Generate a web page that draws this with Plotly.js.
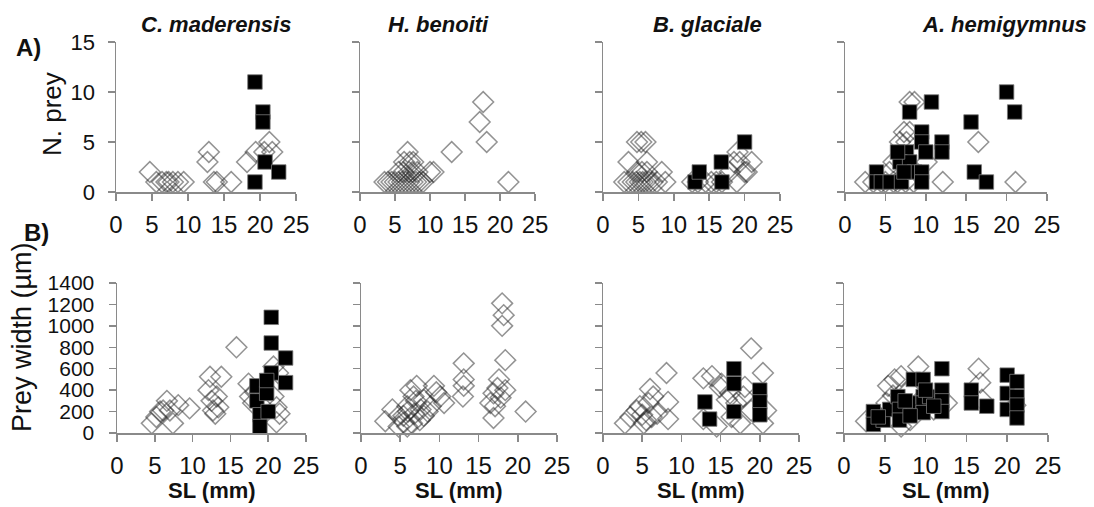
<!DOCTYPE html>
<html>
<head>
<meta charset="utf-8">
<script src="https://cdn.plot.ly/plotly-3.0.1.min.js"></script>
<style>html,body{margin:0;padding:0;background:#fff;}#chart{width:1094px;height:507px;}</style>
</head>
<body>
<div id="chart"></div>
<script>
// ---------- tick labels / categories ----------
const species = ["C. maderensis", "H. benoiti", "B. glaciale", "A. hemigymnus"];
const xTicks = [0, 5, 10, 15, 20, 25];
const nPreyTicks = [0, 5, 10, 15];
const widthTicks = [0, 200, 400, 600, 800, 1000, 1200, 1400];

// ---------- A) N. prey vs SL ----------
// C. maderensis
const cmPreyOpenX = [4.7, 5.6, 6.4, 7.0, 7.3, 7.9, 8.6, 9.4, 12.9, 12.7, 13.6, 14.0, 16.0, 18.2, 19.4, 21.3, 21.7, 20.6];
const cmPreyOpenY = [2, 1, 1, 1, 1, 1, 1, 1, 4, 3, 1, 1, 1, 3, 4, 5, 4, 4];
const cmPreyFillX = [19.3, 20.4, 20.4, 20.7, 22.6, 19.3];
const cmPreyFillY = [11, 8, 7, 3, 2, 1];
// H. benoiti
const hbPreyOpenX = [3.5, 4.0, 4.5, 5.0, 5.5, 6.0, 6.5, 7.0, 7.5, 8.0, 8.5, 9.0, 5.5, 6.2, 7.0, 7.5, 8.2, 6.3, 7.1, 7.6, 6.8, 10.0, 10.5, 13.1, 17.6, 17.1, 18.1, 21.2];
const hbPreyOpenY = [1, 1, 1, 1, 1, 1, 1, 1, 1, 1, 1, 1, 2, 2, 2, 2, 2, 3, 3, 3, 4, 2, 2, 4, 9, 7, 5, 1];
const hbPreyFillX = [];
const hbPreyFillY = [];
// B. glaciale
const bgPreyOpenX = [4.8, 5.4, 6.0, 3.6, 6.2, 8.3, 4.8, 5.5, 6.2, 3.0, 3.6, 4.2, 4.7, 5.2, 5.6, 6.0, 6.5, 7.0, 7.6, 8.8, 12.6, 13.4, 14.5, 15.3, 16.0, 16.8, 17.9, 18.5, 19.3, 21.0, 19.0, 20.3, 18.9, 20.0];
const bgPreyOpenY = [5, 5, 5, 3, 3, 2, 2, 2, 2, 1, 1, 1, 1, 1, 1, 1, 1, 1, 1, 1, 1, 1, 1, 1, 1, 1, 2, 3, 3, 3, 4, 2, 1, 2];
const bgPreyFillX = [13.0, 13.6, 16.7, 16.8, 20.0];
const bgPreyFillY = [1, 2, 3, 1, 5];
// A. hemigymnus
const ahPreyOpenX = [2.5, 8.0, 8.6, 7.3, 8.0, 6.8, 7.6, 10.1, 6.0, 12.1, 16.5, 21.1, 3.5, 4.5, 5.0, 6.0, 6.5, 7.5, 8.5, 5.5];
const ahPreyOpenY = [1, 9, 9, 6, 6, 5, 5, 3, 3, 1, 5, 1, 1, 1, 1, 1, 1, 1, 1, 2];
const ahPreyFillX = [3.9, 3.9, 4.5, 5.6, 7.0, 8.0, 10.7, 9.5, 9.5, 10.0, 7.6, 6.8, 8.0, 8.6, 9.5, 9.5, 12.0, 12.0, 15.6, 16.0, 17.5, 20.0, 21.0, 7.3, 6.5];
const ahPreyFillY = [2, 1, 1, 1, 1, 8, 9, 6, 5, 4, 4, 3, 3, 2, 2, 1, 5, 4, 7, 2, 1, 10, 8, 2, 4];

// ---------- B) Prey width (µm) vs SL ----------
// C. maderensis
const cmWidOpenX = [4.6, 5.2, 5.7, 6.1, 6.6, 7.0, 7.4, 8.1, 9.6, 12.3, 13.8, 12.1, 12.5, 12.7, 13.2, 13.4, 13.0, 15.8, 17.4, 17.6, 18.0, 20.7, 21.3, 20.7, 21.1, 21.1, 21.5, 18.3];
const cmWidOpenY = [90, 150, 200, 210, 300, 210, 90, 260, 230, 525, 525, 400, 300, 210, 340, 240, 180, 800, 460, 340, 280, 620, 560, 340, 240, 100, 180, 380];
const cmWidFillX = [20.4, 20.4, 22.3, 22.3, 20.4, 18.5, 18.5, 18.9, 18.9, 19.8, 19.8, 20.0];
const cmWidFillY = [1080, 840, 700, 470, 560, 440, 300, 170, 60, 370, 490, 200];
// H. benoiti
const hbWidOpenX = [4.0, 3.1, 4.8, 6.3, 7.1, 6.7, 5.9, 5.4, 6.5, 7.6, 8.0, 9.3, 10.1, 10.6, 8.9, 8.0, 5.9, 4.8, 7.0, 6.0, 7.5, 5.5, 6.8, 8.5, 9.6, 13.1, 13.1, 13.1, 13.0, 18.0, 18.2, 18.0, 18.4, 17.6, 17.4, 18.4, 16.9, 16.5, 17.1, 16.9, 17.8, 21.0];
const hbWidOpenY = [220, 110, 160, 400, 440, 340, 250, 160, 90, 220, 310, 440, 340, 280, 250, 160, 60, 60, 300, 200, 120, 100, 180, 200, 380, 650, 500, 440, 340, 1210, 1100, 1000, 680, 500, 420, 400, 370, 280, 250, 140, 330, 200];
const hbWidFillX = [];
const hbWidFillY = [];
// B. glaciale
const bgWidOpenX = [2.8, 3.5, 5.0, 6.0, 5.8, 6.4, 6.9, 4.3, 5.2, 8.1, 8.3, 8.3, 4.7, 5.5, 6.2, 12.8, 12.8, 13.9, 14.9, 14.5, 15.1, 15.8, 16.2, 17.0, 16.4, 17.9, 18.9, 18.1, 18.9, 20.4, 20.8, 20.4, 17.5];
const bgWidOpenY = [90, 150, 170, 410, 280, 340, 180, 210, 90, 560, 290, 130, 250, 120, 150, 510, 130, 530, 430, 60, 460, 310, 370, 280, 150, 340, 790, 430, 210, 560, 210, 90, 90];
const bgWidFillX = [13.0, 13.6, 16.7, 16.7, 16.7, 20.0, 20.0, 20.0];
const bgWidFillY = [290, 130, 600, 460, 200, 400, 290, 170];
// A. hemigymnus
const ahWidOpenX = [2.7, 5.4, 6.2, 7.0, 9.1, 16.5, 16.7, 16.9, 12.6, 21.0, 7.0, 8.1, 5.2, 4.0, 6.0, 8.0, 10.5, 11.0];
const ahWidOpenY = [110, 440, 500, 530, 620, 600, 470, 310, 280, 260, 60, 120, 280, 170, 350, 400, 300, 220];
const ahWidFillX = [3.6, 3.6, 4.8, 5.6, 6.6, 6.8, 6.8, 8.5, 9.7, 8.5, 9.7, 9.7, 9.7, 10.5, 8.1, 12.0, 12.0, 12.0, 12.0, 15.6, 15.6, 17.5, 20.0, 20.0, 20.0, 21.2, 21.2, 21.2, 21.2, 4.2, 7.5, 10.0, 11.0];
const ahWidFillY = [200, 80, 120, 220, 340, 220, 120, 500, 500, 280, 340, 280, 190, 340, 160, 600, 400, 300, 200, 400, 280, 250, 540, 370, 220, 480, 340, 260, 140, 150, 300, 400, 250];

// ---------- build ----------
const W = 1094, H = 507;
const panels = [
  [cmPreyOpenX, cmPreyOpenY, cmPreyFillX, cmPreyFillY],
  [hbPreyOpenX, hbPreyOpenY, hbPreyFillX, hbPreyFillY],
  [bgPreyOpenX, bgPreyOpenY, bgPreyFillX, bgPreyFillY],
  [ahPreyOpenX, ahPreyOpenY, ahPreyFillX, ahPreyFillY],
  [cmWidOpenX, cmWidOpenY, cmWidFillX, cmWidFillY],
  [hbWidOpenX, hbWidOpenY, hbWidFillX, hbWidFillY],
  [bgWidOpenX, bgWidOpenY, bgWidFillX, bgWidFillY],
  [ahWidOpenX, ahWidOpenY, ahWidFillX, ahWidFillY]
];
// pixel extents of each plot area
const topCols = [[116, 296], [360, 535], [603, 780], [845, 1047]];
const botCols = [[117, 306], [361, 557], [603, 799], [844, 1048]];
const topRow = [42, 192], botRow = [283, 433];

const FONT = 'Arial, "Liberation Sans", sans-serif';
const AXC = '#8a8a8a';
const traces = [];
const layout = {
  width: W, height: H,
  margin: {l: 0, r: 0, t: 0, b: 0},
  paper_bgcolor: '#fff', plot_bgcolor: 'rgba(0,0,0,0)',
  showlegend: false,
  font: {family: FONT, color: '#111'},
  annotations: []
};

panels.forEach((p, i) => {
  const n = i + 1;
  const sfx = n === 1 ? '' : String(n);
  const isTop = i < 4;
  const col = isTop ? topCols[i] : botCols[i - 4];
  const row = isTop ? topRow : botRow;
  traces.push({
    type: 'scatter', mode: 'markers', x: p[0], y: p[1],
    xaxis: 'x' + sfx, yaxis: 'y' + sfx, cliponaxis: false,
    marker: {symbol: 'diamond-open', size: 16, color: 'rgba(40,40,40,0.5)', line: {width: 1.5, color: 'rgba(40,40,40,0.5)'}}
  });
  traces.push({
    type: 'scatter', mode: 'markers', x: p[2], y: p[3],
    xaxis: 'x' + sfx, yaxis: 'y' + sfx, cliponaxis: false,
    marker: {symbol: 'square', size: 14.5, color: '#000', line: {width: 1, color: 'rgba(120,120,120,0.8)'}}
  });
  layout['xaxis' + sfx] = {
    domain: [col[0] / W, col[1] / W], anchor: 'y' + sfx,
    range: [0, 25], tickvals: xTicks, ticktext: xTicks.map(String),
    showline: true, linecolor: AXC, linewidth: 1.5,
    ticks: 'outside', ticklen: 7, tickwidth: 1.5, tickcolor: AXC,
    showgrid: false, zeroline: false, fixedrange: true,
    ticklabelstandoff: 4,
    tickfont: {family: FONT, size: 24, color: '#111'}
  };
  layout['yaxis' + sfx] = {
    domain: [1 - row[1] / H, 1 - row[0] / H], anchor: 'x' + sfx,
    range: isTop ? [0, 15] : [0, 1400],
    tickvals: isTop ? nPreyTicks : widthTicks,
    ticktext: (isTop ? nPreyTicks : widthTicks).map(String),
    showticklabels: (i === 0 || i === 4),
    showline: true, linecolor: AXC, linewidth: 1.5,
    ticks: 'outside', ticklen: 7, tickwidth: 1.5, tickcolor: AXC,
    showgrid: false, zeroline: false, fixedrange: true,
    ticklabelstandoff: isTop ? 8 : 10,
    tickfont: {family: FONT, size: isTop ? 22 : 21, color: '#111'}
  };
  if (!isTop) {
    layout.annotations.push({
      xref: 'paper', yref: 'paper', x: ((col[0] + col[1]) / 2) / W, y: 1 - 490 / H,
      xanchor: 'center', yanchor: 'middle', showarrow: false,
      text: '<b>SL (mm)</b>', font: {family: FONT, size: 22, color: '#111'}
    });
  }
});

const titlePos = [216, 438, 707, 1004];
species.forEach((s, i) => {
  layout.annotations.push({
    xref: 'paper', yref: 'paper', x: titlePos[i] / W, y: 1 - 24 / H,
    xanchor: 'center', yanchor: 'middle', showarrow: false,
    text: '<b><i>' + s + '</i></b>', font: {family: FONT, size: 22, color: '#111'}
  });
});
layout.annotations.push(
  {xref: 'paper', yref: 'paper', x: 29 / W, y: 1 - 47 / H, xanchor: 'center', yanchor: 'middle', showarrow: false,
   text: '<b>A)</b>', font: {family: FONT, size: 24, color: '#111'}},
  {xref: 'paper', yref: 'paper', x: 36 / W, y: 1 - 232 / H, xanchor: 'center', yanchor: 'middle', showarrow: false,
   text: '<b>B)</b>', font: {family: FONT, size: 24, color: '#111'}},
  {xref: 'paper', yref: 'paper', x: 52 / W, y: 1 - 114 / H, xanchor: 'center', yanchor: 'middle', showarrow: false,
   textangle: -90, text: 'N. prey', font: {family: FONT, size: 26, color: '#111'}},
  {xref: 'paper', yref: 'paper', x: 22 / W, y: 1 - 337 / H, xanchor: 'center', yanchor: 'middle', showarrow: false,
   textangle: -90, text: 'Prey width (µm)', font: {family: FONT, size: 27, color: '#111'}}
);

Plotly.newPlot('chart', traces, layout, {displayModeBar: false, staticPlot: true});
</script>
</body>
</html>
